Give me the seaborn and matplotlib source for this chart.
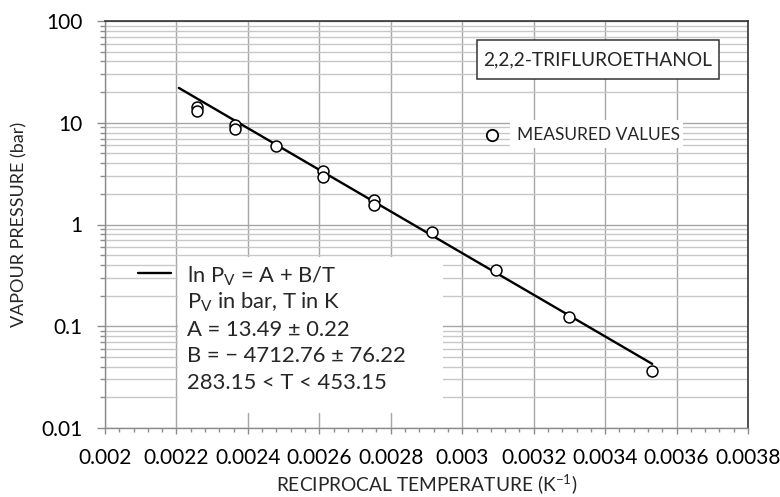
import numpy as np
import pandas as pd
import matplotlib
matplotlib.use("Agg")
import matplotlib.pyplot as plt
import matplotlib.ticker as mticker
from matplotlib.patches import Rectangle
import seaborn as sns

# ---- data ----
recip_T = [0.002257, 0.002257, 0.002363, 0.002363, 0.002480, 0.002610, 0.002610,
           0.002754, 0.002754, 0.002914, 0.003095, 0.003299, 0.003532]
pressure = [14.4, 13.0, 9.5, 8.6, 5.9, 3.33, 2.95, 1.75, 1.56, 0.84, 0.355, 0.123, 0.036]

fit_recip_T = [0.0022068, 0.0035317]
fit_pressure = [21.98, 0.0427]

x_ticks = [0.002, 0.0022, 0.0024, 0.0026, 0.0028, 0.003, 0.0032, 0.0034, 0.0036, 0.0038]
x_tick_labels = ["0.002", "0.0022", "0.0024", "0.0026", "0.0028", "0.003", "0.0032",
                 "0.0034", "0.0036", "0.0038"]
y_ticks = [0.01, 0.1, 1, 10, 100]
y_tick_labels = ["0.01", "0.1", "1", "10", "100"]

title_text = "2,2,2-TRIFLUROETHANOL"
marker_label = "MEASURED VALUES"
eq_lines = [r"ln P$_{\mathrm{V}}$ = A + B/T",
            r"P$_{\mathrm{V}}$ in bar, T in K",
            "A = 13.49 \u00b1 0.22",
            "B = \u2212 4712.76 \u00b1 76.22",
            "283.15 < T < 453.15"]

sns.set_style("white")
plt.rcParams["font.family"] = ["Lato", "DejaVu Sans"]
plt.rcParams["mathtext.fontset"] = "custom"
plt.rcParams["mathtext.rm"] = "Lato"
plt.rcParams["mathtext.it"] = "Lato:italic"
plt.rcParams["mathtext.bf"] = "Lato:bold"

W, H = 780, 497
fig = plt.figure(figsize=(7.8, 4.97), dpi=100)
L, R, T, B = 105, 748, 21, 428
ax = fig.add_axes([L / W, 1 - B / H, (R - L) / W, (B - T) / H])

pts = pd.DataFrame({"x": recip_T, "y": pressure})
fit = pd.DataFrame({"x": fit_recip_T, "y": fit_pressure})

sns.lineplot(data=fit, x="x", y="y", ax=ax, color="black", linewidth=1.7, zorder=3)
sns.scatterplot(data=pts, x="x", y="y", ax=ax, marker="o", s=62, facecolor="white",
                edgecolor="black", linewidth=1.1, zorder=4)

ax.set_yscale("log")
ax.set_xlim(0.002, 0.0038)
ax.set_ylim(0.01, 100)
ax.set_xticks(x_ticks)
ax.set_xticklabels(x_tick_labels)
ax.set_yticks(y_ticks)
ax.set_yticklabels(y_tick_labels)
ax.xaxis.set_minor_locator(mticker.MultipleLocator(0.00004))
ax.yaxis.set_minor_locator(mticker.LogLocator(base=10, subs=np.arange(2, 10)))
ax.yaxis.set_minor_formatter(mticker.NullFormatter())

ax.grid(True, which="major", axis="x", color="#a6a6a6", linewidth=1.0)
ax.grid(True, which="major", axis="y", color="#a6a6a6", linewidth=1.0)
ax.grid(True, which="minor", axis="y", color="#c8c8c8", linewidth=1.0)
ax.set_axisbelow(True)

ax.tick_params(axis="both", which="both", direction="out", colors="#8c8c8c",
               labelcolor="black", labelsize=15, width=1)
ax.tick_params(axis="y", which="major", length=6, pad=10)
ax.tick_params(axis="y", which="minor", length=3.5)
ax.tick_params(axis="x", which="major", length=4.5, pad=10)
ax.tick_params(axis="x", which="minor", length=3)
ax.tick_params(left=True, bottom=True, which="both")

for s in ["left", "bottom"]:
    ax.spines[s].set_color("#8c8c8c")
    ax.spines[s].set_linewidth(1)
for s in ["top", "right"]:
    ax.spines[s].set_color("#333333")
    ax.spines[s].set_linewidth(1.2)

ax.set_xlabel(r"RECIPROCAL TEMPERATURE (K$^{\mathrm{-1}}$)", fontsize=13.8, labelpad=3)
ax.set_ylabel("VAPOUR PRESSURE (bar)", fontsize=13, labelpad=10)


def fx(px):
    return px / W


def fy(py):
    return 1 - py / H


# title box
ax.add_patch(Rectangle((fx(477), fy(79)), fx(719) - fx(477), fy(40) - fy(79),
                       transform=fig.transFigure, facecolor="white", edgecolor="#333333",
                       linewidth=1.1, zorder=5))
fig.text(fx(598), fy(59.5), title_text, ha="center", va="center", fontsize=13.8, zorder=6)

# measured values legend
ax.add_patch(Rectangle((fx(510), fy(148)), fx(683) - fx(510), fy(120) - fy(148),
                       transform=fig.transFigure, facecolor="white", edgecolor="none",
                       zorder=5))
ax.plot([fx(491.7)], [fy(135)], transform=fig.transFigure, marker="o", markersize=8.2,
        markerfacecolor="white", markeredgecolor="black", markeredgewidth=1.3,
        linestyle="none", zorder=6, clip_on=False)
fig.text(fx(517), fy(135), marker_label, ha="left", va="center", fontsize=12.5, zorder=6)

# equation legend
ax.add_patch(Rectangle((fx(178), fy(413)), fx(443) - fx(178), fy(257) - fy(413),
                       transform=fig.transFigure, facecolor="white", edgecolor="none",
                       zorder=5))
ax.plot([fx(138), fx(171)], [fy(273), fy(273)], transform=fig.transFigure, color="black",
        linewidth=1.7, zorder=6, clip_on=False)
for i, line in enumerate(eq_lines):
    fig.text(fx(187), fy(276 + i * 26.8), line, ha="left", va="center", fontsize=15.8,
             zorder=6)

fig.savefig("out.png", dpi=100)
